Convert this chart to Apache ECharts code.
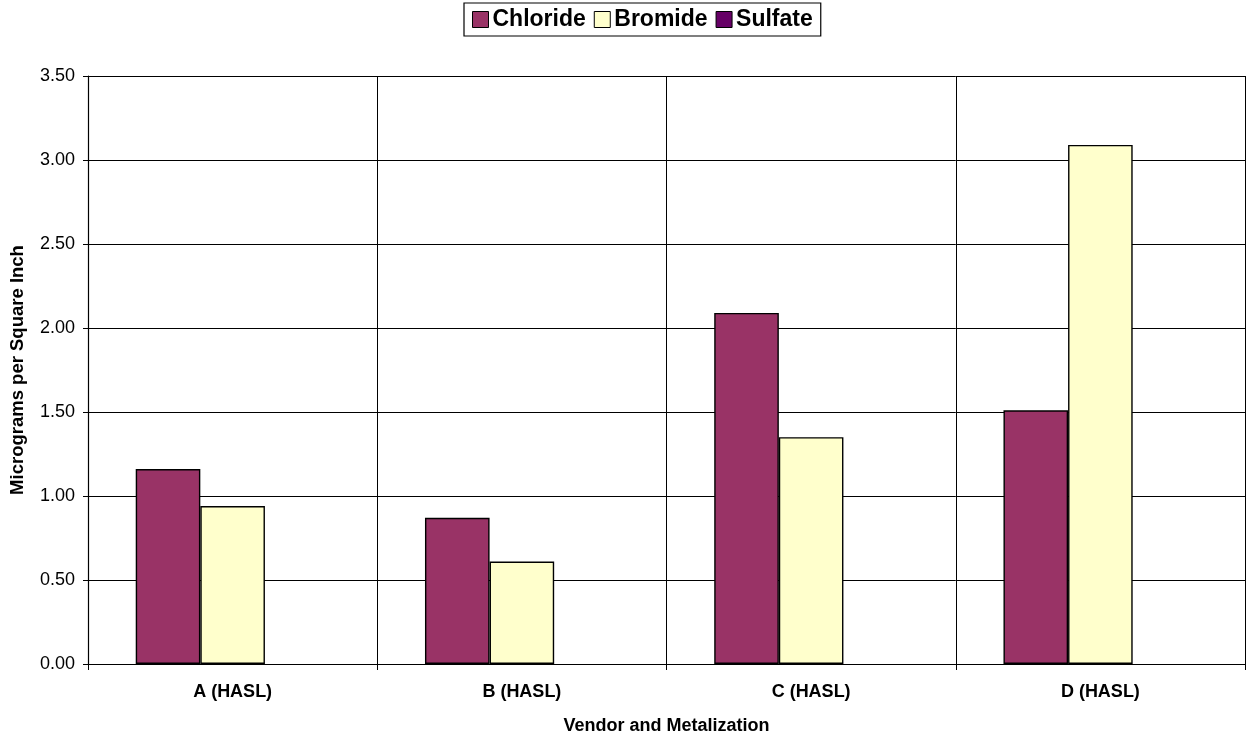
<!DOCTYPE html>
<html>
<head>
<meta charset="utf-8">
<script src="https://cdn.jsdelivr.net/npm/echarts@6/dist/echarts.min.js"></script>
<style>
  html, body { margin: 0; padding: 0; background: #fff; }
  #chart { width: 1246px; height: 736px; }
</style>
</head>
<body>
<div id="chart"></div>
<script>
// Ion residues per vendor (µg/in²)
const categories = ['A (HASL)', 'B (HASL)', 'C (HASL)', 'D (HASL)'];
const chloride = [1.16, 0.87, 2.09, 1.51];
const bromide = [0.94, 0.61, 1.35, 3.09];
const sulfate = [null, null, null, null];
const yTicks = { min: 0, max: 3.5, interval: 0.5 };

const FONT = '"Liberation Sans", Arial, sans-serif';
const chart = echarts.init(document.getElementById('chart'));

function barSeries(name, data, color) {
  return {
    name: name,
    type: 'bar',
    data: data,
    barGap: '0%',
    barCategoryGap: '33%',
    itemStyle: { color: color, borderColor: '#000', borderWidth: 1.4 },
    emphasis: { disabled: true }
  };
}

chart.setOption({
  animation: false,
  textStyle: { fontFamily: FONT },
  legend: {
    top: 3,
    left: 464,
    itemWidth: 16,
    itemHeight: 16,
    itemGap: 8,
    padding: [5, 8, 5, 8],
    borderColor: '#000',
    borderWidth: 1.2,
    icon: 'rect',
    textStyle: { fontFamily: FONT, fontWeight: 'bold', fontSize: 23, color: '#000', padding: [0, 0, 0, -1] },
    itemStyle: { borderColor: '#000', borderWidth: 1 },
    data: ['Chloride', 'Bromide', 'Sulfate']
  },
  grid: { left: 88, right: 1, top: 76, bottom: 72, containLabel: false, outerBoundsMode: 'none' },
  xAxis: {
    type: 'category',
    data: categories,
    name: 'Vendor and Metalization',
    nameLocation: 'middle',
    nameGap: 53,
    nameTextStyle: { fontFamily: FONT, fontWeight: 'bold', fontSize: 18, color: '#000' },
    axisLine: { lineStyle: { color: '#000', width: 1 } },
    axisTick: { show: true, length: 6, lineStyle: { color: '#000' } },
    axisLabel: { fontFamily: FONT, fontWeight: 'bold', fontSize: 18, color: '#000', margin: 19 },
    splitLine: { show: true, lineStyle: { color: '#000', width: 1 } }
  },
  yAxis: {
    type: 'value',
    min: yTicks.min,
    max: yTicks.max,
    interval: yTicks.interval,
    name: 'Micrograms per Square Inch',
    nameLocation: 'middle',
    nameGap: 61,
    nameTextStyle: { fontFamily: FONT, fontWeight: 'bold', fontSize: 18.5, color: '#000' },
    axisLine: { show: true, lineStyle: { color: '#000', width: 1.2 } },
    axisTick: { show: true, length: 5, lineStyle: { color: '#000' } },
    axisLabel: { fontFamily: FONT, fontSize: 18, color: '#000', margin: 13, formatter: v => v.toFixed(2) },
    splitLine: { show: true, lineStyle: { color: '#000', width: 1 } }
  },
  series: [
    barSeries('Chloride', chloride, '#993366'),
    barSeries('Bromide', bromide, '#FFFFCC'),
    barSeries('Sulfate', sulfate, '#660066')
  ]
});
</script>
</body>
</html>
